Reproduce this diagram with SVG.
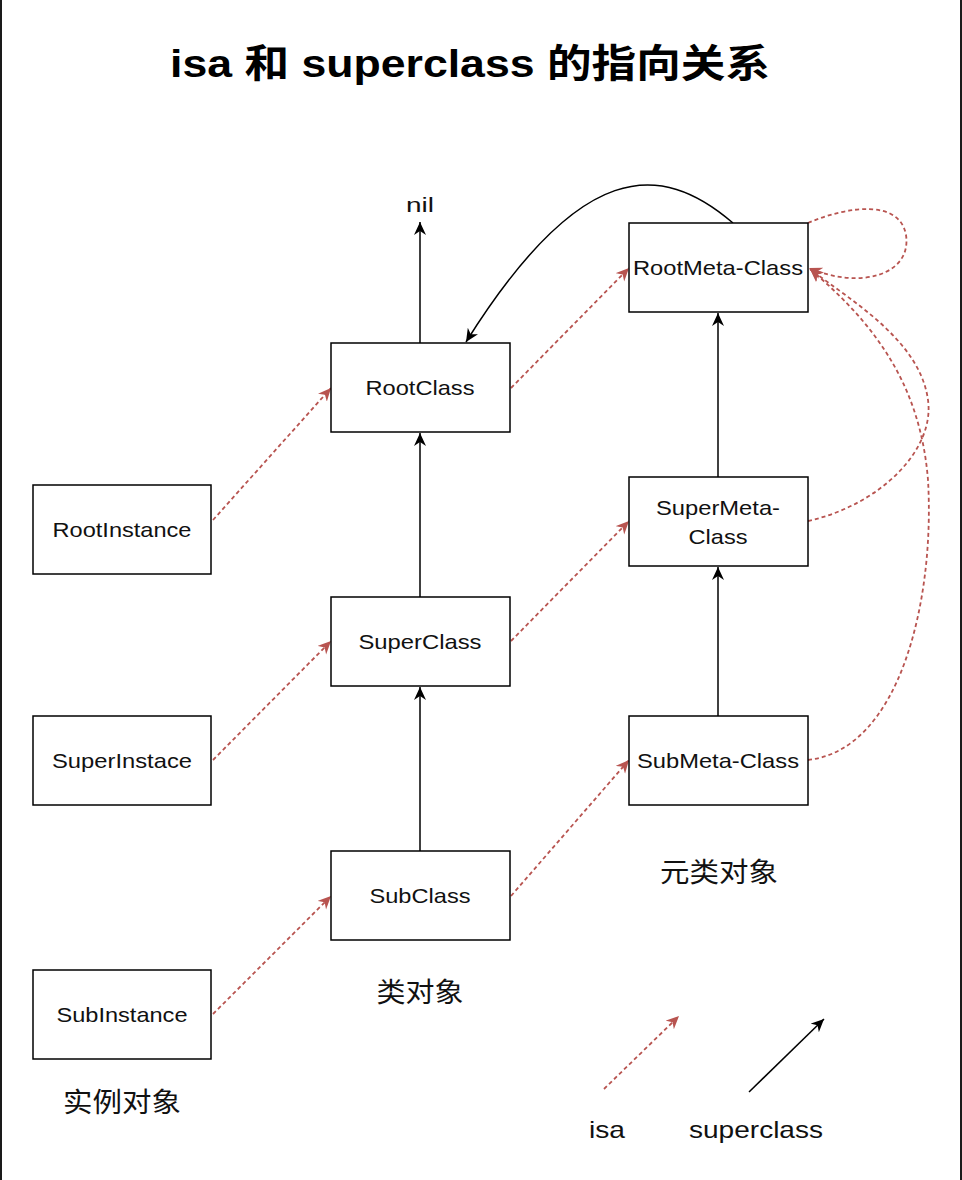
<svg xmlns="http://www.w3.org/2000/svg" width="962" height="1180" viewBox="0 0 962 1180">
<style>
  .node rect { fill: #ffffff; stroke: #000000; stroke-width: 1.5; }
  .lbl { font-family: "Liberation Sans", "Noto Sans CJK SC", sans-serif; font-size: 21px; fill: #111111; text-anchor: middle; }
  .cjk { font-family: "Liberation Sans", "Noto Sans CJK SC", sans-serif; font-size: 27px; fill: #111111; text-anchor: middle; }
  .title { font-family: "Liberation Sans", "Noto Sans CJK SC", sans-serif; font-size: 39px; font-weight: bold; fill: #000000; text-anchor: middle; }
  .sup { fill: none; stroke: #000000; stroke-width: 1.5; }
  .isa { fill: none; stroke: #b85450; stroke-width: 1.8; stroke-dasharray: 4 3; }
</style>
<defs>
  <marker id="arrBlack" markerUnits="userSpaceOnUse" markerWidth="16" markerHeight="14" refX="13" refY="6" orient="auto">
    <path d="M0,0 L13,6 L0,12 L4,6 Z" fill="#000000"/>
  </marker>
  <marker id="arrRed" markerUnits="userSpaceOnUse" markerWidth="16" markerHeight="14" refX="13" refY="6" orient="auto">
    <path d="M0,0 L13,6 L0,12 L4,6 Z" fill="#b85450"/>
  </marker>
</defs>
<rect x="0" y="0" width="962" height="1180" fill="#ffffff"/>
<line x1="1" y1="0" x2="1" y2="1180" stroke="#1a1a1a" stroke-width="2"/>
<line x1="961" y1="0" x2="961" y2="1180" stroke="#1a1a1a" stroke-width="2"/>

<text class="title" x="470" y="77" textLength="600" lengthAdjust="spacingAndGlyphs">isa 和 superclass 的指向关系</text>

<g id="connectors">
  <path class="sup" d="M420,343 L420,222" marker-end="url(#arrBlack)"/>
  <path class="sup" d="M420,597 L420,433" marker-end="url(#arrBlack)"/>
  <path class="sup" d="M420,851 L420,687" marker-end="url(#arrBlack)"/>
  <path class="sup" d="M718,477 L718,313" marker-end="url(#arrBlack)"/>
  <path class="sup" d="M718,716 L718,567" marker-end="url(#arrBlack)"/>
  <path class="sup" d="M733,223 C 660,160 580,160 466,342" marker-end="url(#arrBlack)"/>

  <path class="isa" d="M213,520 L331,388" marker-end="url(#arrRed)"/>
  <path class="isa" d="M213,760 L331,641" marker-end="url(#arrRed)"/>
  <path class="isa" d="M213,1014 L331,896" marker-end="url(#arrRed)"/>
  <path class="isa" d="M511,388 L629,268" marker-end="url(#arrRed)"/>
  <path class="isa" d="M511,641 L629,521" marker-end="url(#arrRed)"/>
  <path class="isa" d="M511,896 L629,760" marker-end="url(#arrRed)"/>
  <path class="isa" d="M808,223 C 850,205 900,200 906,235 C 912,275 860,290 809,268" marker-end="url(#arrRed)"/>
  <path class="isa" d="M808,521 C 880,505 935,450 928,400 C 920,340 850,300 810,269" marker-end="url(#arrRed)"/>
  <path class="isa" d="M808,760 C 900,750 935,600 928,480 C 920,380 870,320 810,269" marker-end="url(#arrRed)"/>
</g>

<g id="node-nil"><text class="lbl" x="420" y="212" textLength="28" lengthAdjust="spacingAndGlyphs">nil</text></g>

<g id="node-rootinstance" class="node"><rect x="33" y="485" width="178" height="89"/><text class="lbl" x="122" y="537" textLength="139" lengthAdjust="spacingAndGlyphs">RootInstance</text></g>
<g id="node-superinstace" class="node"><rect x="33" y="716" width="178" height="89"/><text class="lbl" x="122" y="768" textLength="140" lengthAdjust="spacingAndGlyphs">SuperInstace</text></g>
<g id="node-subinstance" class="node"><rect x="33" y="970" width="178" height="89"/><text class="lbl" x="122" y="1022" textLength="131" lengthAdjust="spacingAndGlyphs">SubInstance</text></g>

<g id="node-rootclass" class="node"><rect x="331" y="343" width="179" height="89"/><text class="lbl" x="420" y="395" textLength="109" lengthAdjust="spacingAndGlyphs">RootClass</text></g>
<g id="node-superclass" class="node"><rect x="331" y="597" width="179" height="89"/><text class="lbl" x="420" y="649" textLength="123" lengthAdjust="spacingAndGlyphs">SuperClass</text></g>
<g id="node-subclass" class="node"><rect x="331" y="851" width="179" height="89"/><text class="lbl" x="420" y="903" textLength="101" lengthAdjust="spacingAndGlyphs">SubClass</text></g>

<g id="node-rootmetaclass" class="node"><rect x="629" y="223" width="179" height="89"/><text class="lbl" x="718" y="275" textLength="170" lengthAdjust="spacingAndGlyphs">RootMeta-Class</text></g>
<g id="node-supermetaclass" class="node"><rect x="629" y="477" width="179" height="89"/><text class="lbl" x="718" y="515" textLength="124" lengthAdjust="spacingAndGlyphs">SuperMeta-</text><text class="lbl" x="718" y="544" textLength="59" lengthAdjust="spacingAndGlyphs">Class</text></g>
<g id="node-submetaclass" class="node"><rect x="629" y="716" width="179" height="89"/><text class="lbl" x="718" y="768" textLength="162" lengthAdjust="spacingAndGlyphs">SubMeta-Class</text></g>

<g id="label-instances"><text class="cjk" x="122" y="1112" textLength="118" lengthAdjust="spacingAndGlyphs">实例对象</text></g>
<g id="label-classes"><text class="cjk" x="420" y="1002" textLength="87" lengthAdjust="spacingAndGlyphs">类对象</text></g>
<g id="label-metaclasses"><text class="cjk" x="719" y="882" textLength="118" lengthAdjust="spacingAndGlyphs">元类对象</text></g>

<g id="legend">
  <path class="isa" d="M604,1089 L679,1016" marker-end="url(#arrRed)"/>
  <path class="sup" d="M749,1092 L824,1019" marker-end="url(#arrBlack)"/>
  <text class="lbl" x="607" y="1138" style="font-size:24px" textLength="36" lengthAdjust="spacingAndGlyphs">isa</text>
  <text class="lbl" x="756" y="1138" style="font-size:24px" textLength="134" lengthAdjust="spacingAndGlyphs">superclass</text>
</g>
</svg>
